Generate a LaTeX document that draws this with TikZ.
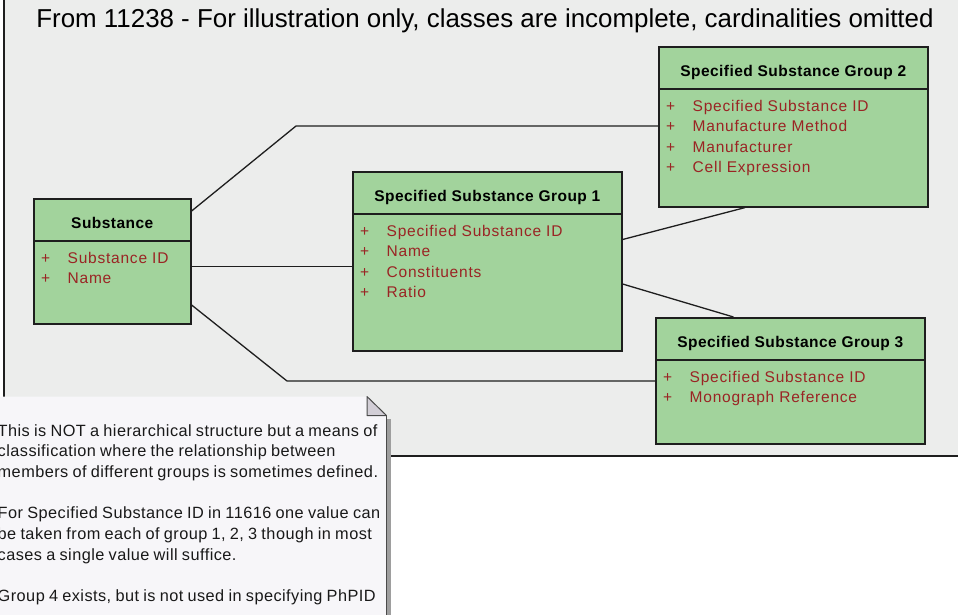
\documentclass[tikz,border=0pt]{standalone}
\usepackage{fontspec}
\setmainfont{Liberation Sans}
\newfontfamily\attrfont[LetterSpace=5]{Liberation Sans}
\newfontfamily\headfont[LetterSpace=3]{Liberation Sans}
\newfontfamily\notefont[LetterSpace=2.8,WordSpace=0.85]{Liberation Sans}

\definecolor{framebg}{HTML}{ECEDEC}
\definecolor{classfill}{HTML}{A2D39C}
\definecolor{attrred}{HTML}{9A2424}
\definecolor{notebg}{HTML}{F7F6F9}
\definecolor{earfill}{HTML}{D2CED6}
\definecolor{edgecol}{HTML}{1E1E1E}
\definecolor{noteedge}{HTML}{4A4A4A}

\tikzset{
  frameline/.style={draw=edgecol, line width=1.8pt},
  classbox/.style={draw=edgecol, fill=classfill, line width=1.6pt,
    anchor=north west, inner sep=0pt},
  classline/.style={draw=edgecol, line width=1.6pt},
  classtitle/.style={anchor=base, inner sep=0pt,
    font=\headfont\fontsize{15.5pt}{18pt}\selectfont\bfseries},
  attr/.style={anchor=base west, inner sep=0pt, text=attrred,
    font=\attrfont\fontsize{15.5pt}{18pt}\selectfont},
  assoc/.style={draw=edgecol, line width=1.3pt},
  noteline/.style={anchor=base west, inner sep=0pt, text=black!90,
    font=\notefont\fontsize{16.3pt}{20pt}\selectfont},
}

% \umlclass{name}{x}{y}{width}{height}{title}{attribute list}
\newcommand\umlclass[7]{%
  \node[classbox, minimum width=#4pt, minimum height=#5pt] (#1) at (#2,#3) {};
  \draw[classline] ([yshift=-43pt]#1.north west) -- ([yshift=-43pt]#1.north east);
  \node[classtitle] (#1-t) at ([yshift=-30pt]#1.north) {#6};
  \foreach \a [count=\i] in {#7} {
    \node[attr] (#1-p\i) at ([xshift=8pt,yshift={-65pt-(\i-1)*20.6pt}]#1.north west) {+};
    \node[attr] (#1-a\i) at ([xshift=34.5pt,yshift={-65pt-(\i-1)*20.6pt}]#1.north west) {\a};
  }%
}

\begin{document}
\begin{tikzpicture}[x=1pt,y=-1pt]
\useasboundingbox (0,0) rectangle (958,614);

% package frame
\path[fill=framebg] (4,-10) rectangle (975,456);
\draw[frameline] (4,-10) -- (4,456) -- (975,456);

\node[anchor=base, inner sep=0pt, font=\fontsize{25.9pt}{30pt}\selectfont] (title) at (485,27)
  {From 11238 - For illustration only, classes are incomplete, cardinalities omitted};

% classes
\umlclass{sub}{33}{198}{157}{125}{Substance}{Substance ID, Name}
\umlclass{gone}{352}{171}{269}{179}{Specified Substance Group 1}{Specified Substance ID, Name, Constituents, Ratio}
\umlclass{gtwo}{658}{46}{269}{160}{Specified Substance Group 2}{Specified Substance ID, Manufacture Method, Manufacturer, Cell Expression}
\umlclass{gthree}{655}{317}{269}{126}{Specified Substance Group 3}{Specified Substance ID, Monograph Reference}

% associations
\draw[assoc] (sub.east |- 0,211) -- (296,126) -- (gtwo.west |- 0,126);
\draw[assoc] (sub.east |- 0,266.5) -- (gone.west |- 0,266.5);
\draw[assoc] (sub.east |- 0,305) -- (287,381) -- (gthree.west |- 0,381);
\draw[assoc] (gone.east |- 0,239.5) -- (gtwo.south -| 745,0);
\draw[assoc] (gone.east |- 0,284) -- (gthree.north -| 733.5,0);

% note with folded corner
\fill[black!38] (386,419) rectangle (390.5,620);
\path[fill=notebg] (-5,396.5) -- (367,396.5) -- (386.5,415.5) -- (386.5,620) -- (-5,620) -- cycle;
\draw[noteedge, line width=1.4pt] (386.5,415.5) -- (386.5,620);
\filldraw[fill=earfill, draw=noteedge, line width=1pt, line join=round]
  (367,396.5) -- (386.5,415.5) -- (367,415.5) -- cycle;

\foreach \t/\yy [count=\k] in {
  {This is NOT a hierarchical structure but a means of}/436,
  {classification where the relationship between}/456.7,
  {members of different groups is sometimes defined.}/477.4,
  {For Specified Substance ID in 11616 one value can}/518.8,
  {be taken from each of group 1, 2, 3 though in most}/539.5,
  {cases a single value will suffice.}/560.2,
  {Group 4 exists, but is not used in specifying PhPID}/601.6}
  \node[noteline] (note\k) at (-2.5,\yy) {\t};
\end{tikzpicture}
\end{document}
